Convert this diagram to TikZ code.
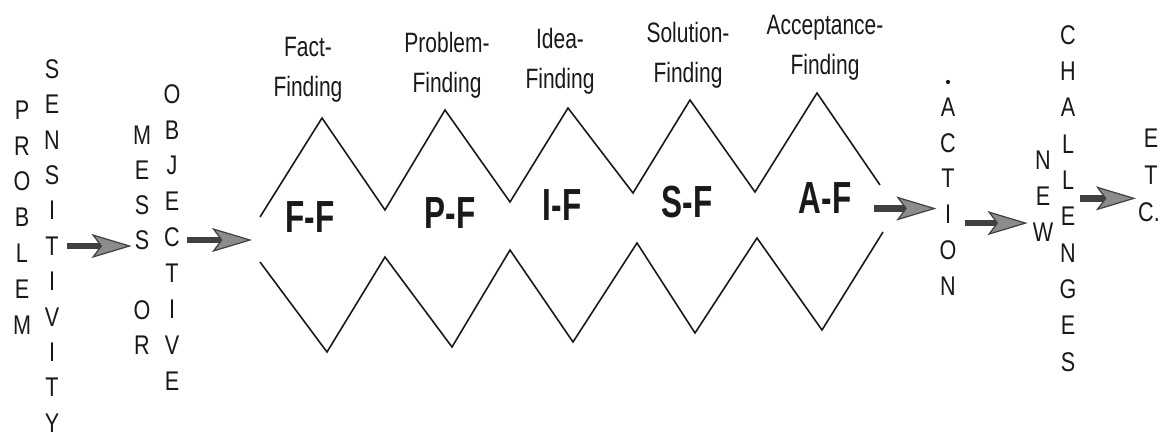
\documentclass[tikz,border=0pt]{standalone}
\usepackage{fontspec}
\setmainfont{Liberation Sans}
\newfontfamily\vfont[FakeStretch=0.8]{Liberation Sans}
\newfontfamily\lfont[FakeStretch=0.75]{Liberation Sans}
\newfontfamily\bfont[FakeStretch=0.7]{Liberation Sans}
\usetikzlibrary{arrows.meta,calc}
\definecolor{ink}{gray}{0.1}
\begin{document}
\begin{tikzpicture}[x=1pt,y=-1pt,
  letter/.style={font=\vfont\fontsize{27}{27}\selectfont, inner sep=0pt, text=ink},
  stagelabel/.style={font=\lfont\fontsize{28}{40}\selectfont, align=center, inner sep=0pt, anchor=north, text=ink},
  stagecode/.style={font=\bfont\bfseries\fontsize{45}{45}\selectfont, inner sep=0pt, text=ink},
  zigzag/.style={draw=ink, line width=1.6pt, line join=miter},
  fatarrow/.style={draw=black!75, line width=6.5pt, -{Stealth[length=40pt,width=24pt,inset=9pt,fill=black!45,line width=1.2pt]}}
]
\useasboundingbox (0,0) rectangle (1162,437);

% vertical words
\foreach \l [count=\i from 0] in {P,R,O,B,L,E,M}
  \node[letter] (prob\i) at (22,{110+35.8*\i}) {\l};
\foreach \l [count=\i from 0] in {S,E,N,S,I,T,I,V,I,T,Y}
  \node[letter] (sens\i) at (52,{69+35.4*\i}) {\l};
\foreach \l/\yy [count=\i from 0] in {M/135,E/170,S/205,S/240,O/310,R/345}
  \node[letter] (mess\i) at (142,\yy) {\l};
\foreach \l [count=\i from 0] in {O,B,J,E,C,T,I,V,E}
  \node[letter] (obj\i) at (172,{94+35.9*\i}) {\l};
\foreach \l [count=\i from 0] in {A,C,T,I,O,N}
  \node[letter] (act\i) at (948,{107+35.8*\i}) {\l};
\node[circle, fill=ink, inner sep=1.5pt] (actdot) at (948,82) {};
\foreach \l [count=\i from 0] in {N,E,W}
  \node[letter] (new\i) at (1043,{160+36*\i}) {\l};
\foreach \l [count=\i from 0] in {C,H,A,L,L,E,N,G,E,S}
  \node[letter] (chal\i) at (1068,{35+36.3*\i}) {\l};
\node[letter] (etc0) at (1151,138) {E};
\node[letter] (etc1) at (1151,175) {T};
\node[letter] (etc2) at (1149,212) {C.};

% zigzag channel
\draw[zigzag] (260,217) -- (322,118) -- (385,210) -- (445,110) -- (510,202) -- (568,108)
  -- (633,193) -- (690,100) -- (755,192) -- (817,93) -- (880,185);
\draw[zigzag] (260,262) -- (327,352) -- (385,257) -- (452,347) -- (510,250) -- (573,342)
  -- (637,243) -- (695,333) -- (757,238) -- (822,330) -- (883,232);
\coordinate (zzL) at (260,240);
\coordinate (zzR) at (881.5,208.5);

% stage labels
\node[stagelabel] (lff) at (308,37) {Fact-\\Finding};
\node[stagelabel] (lpf) at (447,32) {Problem-\\Finding};
\node[stagelabel] (lif) at (560,28) {Idea-\\Finding};
\node[stagelabel] (lsf) at (688,22) {Solution-\\Finding};
\node[stagelabel] (laf) at (825,15) {Acceptance-\\Finding};

\node[stagecode] (ff) at (310,217) {F-F};
\node[stagecode] (pf) at (450,213) {P-F};
\node[stagecode] (if) at (562,205) {I-F};
\node[stagecode] (sf) at (687,202) {S-F};
\node[stagecode] (af) at (825,198) {A-F};

% arrows
\draw[fatarrow] ($(sens5.east)+(8,0)$) -- ($(sens5.east -| mess3.west)+(-3,0)$);
\draw[fatarrow] ($(obj4.east |- zzL)+(7,0)$) -- ($(zzL)+(-8,0)$);
\draw[fatarrow] ($(zzR)+(-8,0)$) -- ($(zzR -| act4.west)+(-3,0)$);
\coordinate (mB) at ($(act4)!0.5!(new1)$);
\draw[fatarrow] ($(mB -| act4.east)+(8,0)$) -- ($(mB -| new1.west)+(-8,0)$);
\coordinate (mC) at ($(chal4)!0.5!(chal5)$);
\draw[fatarrow] ($(mC -| chal4.east)+(6,0)$) -- ($(mC -| etc2.west)+(-2,0)$);
\end{tikzpicture}
\end{document}
